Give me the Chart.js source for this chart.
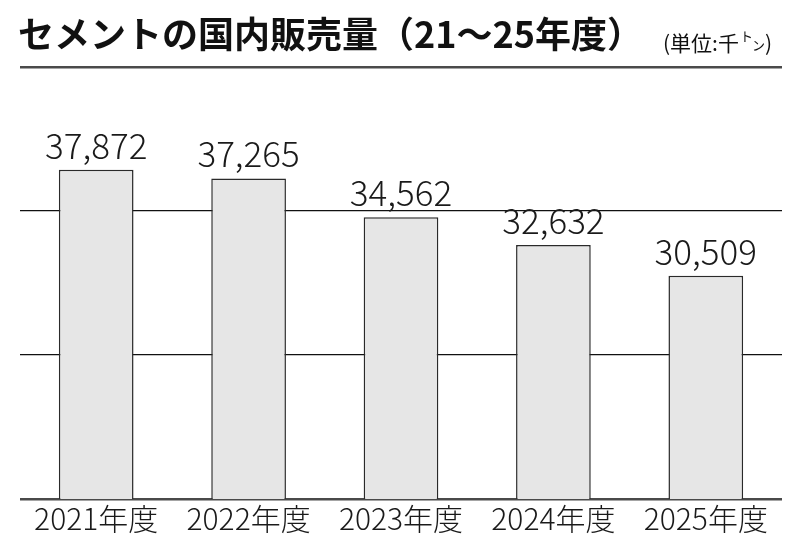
<!DOCTYPE html>
<html>
<head>
<meta charset="utf-8">
<script src="https://cdn.jsdelivr.net/npm/chart.js@4"></script>
<style>
  html, body { margin: 0; padding: 0; background: #fff; }
</style>
</head>
<body>
<canvas id="chart" width="800" height="549"></canvas>
<script>
// データ (単位: 千トン)
const years = ['2021年度', '2022年度', '2023年度', '2024年度', '2025年度'];
const sales = [37872, 37265, 34562, 32632, 30509];
const yMin = 15000;
const yMax = 45000;
const yStep = 10000;

const titleText = 'セメントの国内販売量（21～25年度）';
const unitText = '(単位:千';

const JP = '"Noto Sans CJK JP", "Noto Sans", sans-serif';

// タイトルと単位
const titlePlugin = {
  id: 'titleText',
  afterDraw(chart) {
    const ctx = chart.ctx;
    ctx.save();
    ctx.fillStyle = '#111';
    ctx.textBaseline = 'alphabetic';
    ctx.textAlign = 'left';
    ctx.font = 'bold 36px ' + JP;
    ctx.fillText(titleText, 18, 48);

    ctx.font = '21px ' + JP;
    ctx.fillText(unitText, 663, 51);
    let x = 663 + ctx.measureText(unitText).width + 1;
    ctx.font = '13px ' + JP;
    ctx.fillText('ト', x, 41);
    x += ctx.measureText('ト').width - 1;
    ctx.fillText('ン', x, 50);
    x += ctx.measureText('ン').width;
    ctx.font = '21px ' + JP;
    ctx.fillText(')', x, 51);
    ctx.restore();
  }
};

// 棒の上の数値
const valueLabels = {
  id: 'valueLabels',
  afterDatasetsDraw(chart) {
    const ctx = chart.ctx;
    const meta = chart.getDatasetMeta(0);
    ctx.save();
    ctx.fillStyle = '#1a1a1a';
    ctx.font = '300 35px ' + JP;
    ctx.textAlign = 'center';
    ctx.textBaseline = 'alphabetic';
    meta.data.forEach((bar, i) => {
      ctx.fillText(sales[i].toLocaleString('en-US'), bar.x, bar.y - 11);
    });
    ctx.restore();
  }
};

new Chart(document.getElementById('chart'), {
  type: 'bar',
  data: {
    labels: years,
    datasets: [{
      data: sales,
      backgroundColor: '#e6e6e6',
      borderColor: '#2a2a2a',
      borderWidth: 1.5,
      borderSkipped: 'bottom',
      barPercentage: 0.49,
      categoryPercentage: 1
    }]
  },
  options: {
    responsive: false,
    animation: false,
    layout: { padding: { left: 20, right: 18, top: 67, bottom: 0 } },
    plugins: {
      legend: { display: false },
      tooltip: { enabled: false }
    },
    scales: {
      x: {
        grid: { display: false, drawTicks: false },
        border: { display: false },
        ticks: {
          color: '#1a1a1a',
          font: { family: JP, size: 30, weight: 300 },
          padding: 2,
          maxRotation: 0
        },
        afterFit(scale) { scale.height = 50; }
      },
      y: {
        min: yMin,
        max: yMax,
        ticks: { display: false, stepSize: yStep },
        border: { display: false },
        grid: {
          drawTicks: false,
          color: ctx => (ctx.tick && (ctx.tick.value === yMin || ctx.tick.value === yMax)) ? '#4a4a4a' : '#111',
          lineWidth: ctx => (ctx.tick && (ctx.tick.value === yMin || ctx.tick.value === yMax)) ? 2.5 : 1.3
        },
        afterFit(scale) { scale.width = 0; }
      }
    }
  },
  plugins: [titlePlugin, valueLabels]
});
</script>
</body>
</html>
